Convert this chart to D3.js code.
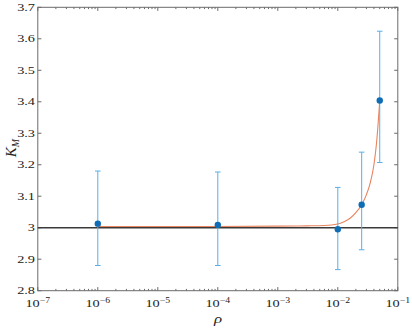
<!DOCTYPE html>
<html><head><meta charset="utf-8">
<script src="https://cdn.jsdelivr.net/npm/d3@7"></script>
<style>
body{margin:0;background:#fff;}
svg{display:block;}
text{font-family:"Liberation Serif","DejaVu Serif",serif;fill:#222;}
</style></head>
<body>
<svg id="c" width="412" height="329"></svg>
<script>
// Data
const rho = [1e-6, 1e-4, 1e-2, 0.025, 0.05];
const kurt = [3.013, 3.009, 2.995, 3.073, 3.404];
const errHigh = [3.180, 3.177, 3.128, 3.240, 3.624];
const errLow = [2.880, 2.880, 2.867, 2.930, 3.207];
const fitRho = [1e-6, 1e-5, 1e-4, 1e-3, 0.003, 0.006, 0.01, 0.013, 0.016, 0.02, 0.025, 0.03, 0.035, 0.04, 0.044, 0.047, 0.05];
const fitK = [3.004, 3.004, 3.004, 3.005, 3.006, 3.007, 3.012, 3.020, 3.030, 3.048, 3.073, 3.105, 3.145, 3.200, 3.265, 3.330, 3.404];
const refLevel = 3;
const xTickExps = [-7, -6, -5, -4, -3, -2, -1];
const yTicks = [2.8, 2.9, 3, 3.1, 3.2, 3.3, 3.4, 3.5, 3.6, 3.7];

const L = 37.8, R = 397.8, T = 7.3, B = 290.7;
const SX = 1.3; // horizontal stretch of the glyphs
const svg = d3.select("#c");
const x = d3.scaleLog().domain([1e-7, 1e-1]).range([L, R]);
const y = d3.scaleLinear().domain([2.8, 3.7]).range([B, T]);
const axisCol = "#6b6b6b";

// axes box
svg.append("rect").attr("x", L).attr("y", T).attr("width", R - L).attr("height", B - T)
  .attr("fill", "none").attr("stroke", axisCol).attr("stroke-width", 1);

// x ticks (major + minor), inward, top and bottom
const minor = [];
for (let e = -7; e < -1; e++) for (let m = 2; m <= 9; m++) minor.push(m * Math.pow(10, e));
const g = svg.append("g").attr("stroke", axisCol).attr("stroke-width", 1);
xTickExps.forEach(e => {
  const px = x(Math.pow(10, e));
  g.append("line").attr("x1", px).attr("x2", px).attr("y1", B).attr("y2", B - 3.6);
  g.append("line").attr("x1", px).attr("x2", px).attr("y1", T).attr("y2", T + 3.6);
});
minor.forEach(v => {
  const px = x(v);
  g.append("line").attr("x1", px).attr("x2", px).attr("y1", B).attr("y2", B - 1.8);
  g.append("line").attr("x1", px).attr("x2", px).attr("y1", T).attr("y2", T + 1.8);
});
yTicks.forEach(v => {
  const py = y(v);
  g.append("line").attr("x1", L).attr("x2", L + 3.6).attr("y1", py).attr("y2", py);
  g.append("line").attr("x1", R).attr("x2", R - 3.6).attr("y1", py).attr("y2", py);
});

// tick labels
xTickExps.forEach(e => {
  const t = svg.append("text")
    .attr("transform", `translate(${x(Math.pow(10, e))},307) scale(${SX},1)`)
    .attr("text-anchor", "middle").attr("font-size", 11);
  t.append("tspan").text("10");
  t.append("tspan").attr("dy", -4.5).attr("font-size", 7.5).text("\u2212" + Math.abs(e));
});
yTicks.forEach(v => {
  svg.append("text").attr("transform", `translate(35,${y(v) + 3.6}) scale(${SX},1)`)
    .attr("text-anchor", "end").attr("font-size", 11).text(d3.format("")(v));
});

// axis labels
svg.append("text").attr("transform", `translate(218,323) scale(${SX},1)`).attr("text-anchor", "middle")
  .attr("font-size", 13).attr("font-style", "italic").text("\u03C1");
const yl = svg.append("text").attr("transform", "translate(16,148) rotate(-90)")
  .attr("text-anchor", "middle").attr("font-size", 15);
yl.append("tspan").attr("font-style", "italic").text("K");
yl.append("tspan").attr("dy", 2.5).attr("font-size", 10).attr("font-style", "italic").text("M");

// fit curve
const line = d3.line().x((d, i) => x(fitRho[i])).y(d => y(d)).curve(d3.curveMonotoneX);
svg.append("path").attr("d", line(fitK)).attr("fill", "none")
  .attr("stroke", "#E8845E").attr("stroke-width", 1.1);

// reference line
svg.append("line").attr("x1", L).attr("x2", R).attr("y1", y(refLevel)).attr("y2", y(refLevel))
  .attr("stroke", "#3a3a3a").attr("stroke-width", 1.6);

// error bars
const eb = svg.append("g").attr("stroke", "#5AAEE3").attr("stroke-width", 1);
rho.forEach((r, i) => {
  const px = x(r);
  eb.append("line").attr("x1", px).attr("x2", px).attr("y1", y(errLow[i])).attr("y2", y(errHigh[i]));
  eb.append("line").attr("x1", px - 2.8).attr("x2", px + 2.8).attr("y1", y(errLow[i])).attr("y2", y(errLow[i]));
  eb.append("line").attr("x1", px - 2.8).attr("x2", px + 2.8).attr("y1", y(errHigh[i])).attr("y2", y(errHigh[i]));
});
// points
svg.append("g").selectAll("circle").data(kurt).join("circle")
  .attr("cx", (d, i) => x(rho[i])).attr("cy", d => y(d)).attr("r", 3.2).attr("fill", "#0E6DB5");
</script>
</body></html>
